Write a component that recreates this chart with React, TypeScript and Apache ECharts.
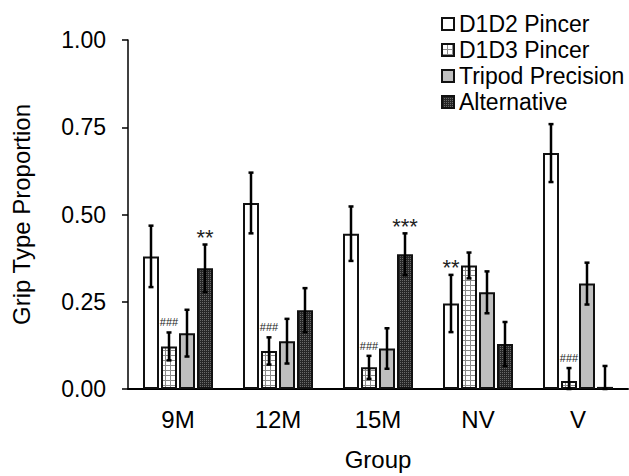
import React, { useEffect, useRef } from "react";
import * as echarts from "echarts";

const categories = ["9M", "12M", "15M", "NV", "V"];
const seriesNames = ["D1D2 Pincer", "D1D3 Pincer", "Tripod Precision", "Alternative"];

const d1d2 = [0.38, 0.533, 0.445, 0.245, 0.676];
const d1d3 = [0.122, 0.109, 0.062, 0.354, 0.023];
const tripod = [0.16, 0.137, 0.116, 0.277, 0.302];
const alternative = [0.346, 0.226, 0.386, 0.129, 0.006];

const d1d2Err = [0.088, 0.087, 0.078, 0.082, 0.083];
const d1d3Err = [0.04, 0.039, 0.033, 0.037, 0.037];
const tripodErr = [0.067, 0.064, 0.058, 0.06, 0.06];
const alternativeErr = [0.068, 0.063, 0.06, 0.063, 0.06];

const yMin = 0;
const yMax = 1;
const yInterval = 0.25;

// significance marks: which series, which category, which text
const annotSeries = [1, 3, 1, 1, 3, 0, 1];
const annotCategory = [0, 0, 1, 2, 2, 3, 4];
const annotText = ["###", "**", "###", "###", "***", "**", "###"];

const FONT = "'Liberation Sans', Arial, sans-serif";
const BAR_W = 16;
const BAR_GAP = 2;
const PITCH = BAR_W + BAR_GAP;

function makeGridPattern(): HTMLCanvasElement {
  const c = document.createElement("canvas");
  c.width = 5;
  c.height = 5;
  const ctx = c.getContext("2d")!;
  ctx.fillStyle = "#ffffff";
  ctx.fillRect(0, 0, 5, 5);
  ctx.fillStyle = "#8c8c8c";
  ctx.fillRect(0, 0, 5, 1);
  ctx.fillRect(0, 0, 1, 5);
  return c;
}

function makeDarkPattern(): HTMLCanvasElement {
  const c = document.createElement("canvas");
  c.width = 2;
  c.height = 2;
  const ctx = c.getContext("2d")!;
  ctx.fillStyle = "#262626";
  ctx.fillRect(0, 0, 2, 2);
  ctx.fillStyle = "#6a6a6a";
  ctx.fillRect(0, 0, 1, 1);
  return c;
}

export default function App() {
  const ref = useRef<HTMLDivElement>(null);

  useEffect(() => {
    if (!ref.current) return;
    const chart = echarts.init(ref.current, null, { renderer: "svg" });

    const values = [d1d2, d1d3, tripod, alternative];
    const errs = [d1d2Err, d1d3Err, tripodErr, alternativeErr];
    const fills: any[] = [
      "#ffffff",
      { image: makeGridPattern(), repeat: "repeat" },
      "#bfbfbf",
      { image: makeDarkPattern(), repeat: "repeat" },
    ];

    const barSeries = seriesNames.map((name, i) => ({
      name,
      type: "bar",
      data: values[i],
      barWidth: BAR_W,
      barGap: `${(BAR_GAP / BAR_W) * 100}%`,
      itemStyle: { color: fills[i], borderColor: "#111", borderWidth: 2 },
      z: 2,
    }));

    const errData: number[][] = [];
    values.forEach((arr, s) => {
      arr.forEach((v, c) => errData.push([c, s, v, errs[s][c]]));
    });

    const annotData = annotSeries.map((s, k) => {
      const c = annotCategory[k];
      return [c, s, values[s][c] + errs[s][c]];
    });

    const option: any = {
      animation: false,
      backgroundColor: "#ffffff",
      textStyle: { fontFamily: FONT },
      grid: { left: 128, right: 1, top: 40, bottom: 86, containLabel: false },
      legend: {
        data: seriesNames,
        orient: "vertical",
        left: 441,
        top: 12,
        padding: 0,
        itemWidth: 12,
        itemHeight: 12,
        itemGap: 2,
        icon: "rect",
        textStyle: { fontSize: 23, color: "#000", fontFamily: FONT, lineHeight: 24 },
      },
      xAxis: {
        type: "category",
        data: categories,
        axisLine: { show: true, lineStyle: { color: "#000", width: 2 } },
        axisTick: { show: false },
        axisLabel: { fontSize: 24, color: "#000", margin: 18, fontFamily: FONT },
        name: "Group",
        nameLocation: "middle",
        nameGap: 58,
        nameTextStyle: { fontSize: 24, color: "#000", fontFamily: FONT },
      },
      yAxis: {
        type: "value",
        min: yMin,
        max: yMax,
        interval: yInterval,
        splitLine: { show: false },
        axisLine: { show: true, lineStyle: { color: "#000", width: 1.5 } },
        axisTick: { show: true, inside: false, length: 6, lineStyle: { color: "#000", width: 1.5 } },
        axisLabel: {
          fontSize: 23,
          color: "#000",
          margin: 22,
          fontFamily: FONT,
          formatter: (v: number) => v.toFixed(2),
        },
        name: "Grip Type Proportion",
        nameLocation: "middle",
        nameGap: 95,
        nameRotate: 90,
        nameTextStyle: { fontSize: 24, color: "#000", fontFamily: FONT },
      },
      series: [
        ...barSeries,
        {
          name: "errors",
          type: "custom",
          data: errData,
          encode: { x: 0, y: 2 },
          z: 5,
          silent: true,
          renderItem: (params: any, api: any) => {
            const cat = api.value(0);
            const s = api.value(1);
            const v = api.value(2);
            const e = api.value(3);
            const off = (s - 1.5) * PITCH;
            const top = api.coord([cat, v + e]);
            const bot = api.coord([cat, Math.max(0, v - e)]);
            const x = top[0] + off;
            const st = { stroke: "#000", lineWidth: 2.5 };
            return {
              type: "group",
              children: [
                { type: "line", shape: { x1: x, y1: top[1], x2: x, y2: bot[1] }, style: st },
                { type: "line", shape: { x1: x - 2.5, y1: top[1], x2: x + 2.5, y2: top[1] }, style: st },
                { type: "line", shape: { x1: x - 2.5, y1: bot[1], x2: x + 2.5, y2: bot[1] }, style: st },
              ],
            };
          },
        },
        {
          name: "marks",
          type: "custom",
          data: annotData,
          encode: { x: 0, y: 2 },
          z: 6,
          silent: true,
          renderItem: (params: any, api: any) => {
            const cat = api.value(0);
            const s = api.value(1);
            const top = api.value(2);
            const p = api.coord([cat, top]);
            const text = annotText[params.dataIndex];
            const isHash = text.indexOf("#") >= 0;
            return {
              type: "text",
              style: {
                text,
                x: p[0] + (s - 1.5) * PITCH,
                y: p[1] - (isHash ? 10 : 7),
                align: "center",
                verticalAlign: "middle",
                fontSize: isHash ? 11 : 22,
                fontFamily: FONT,
                fill: "#222",
              },
            };
          },
        },
      ],
    };

    chart.setOption(option);
    return () => chart.dispose();
  }, []);

  return (
    <div
      ref={ref}
      style={{ position: "fixed", left: 0, top: 0, width: 629, height: 476, background: "#fff" }}
    />
  );
}
